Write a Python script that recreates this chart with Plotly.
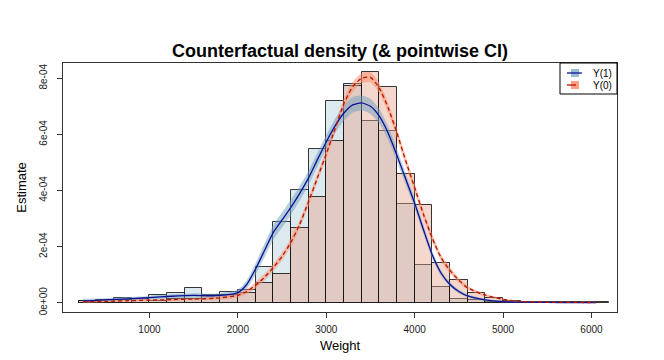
import plotly.graph_objects as go

# histogram bins (left edges, width 200)
bin_left = list(range(200, 6200, 200))
hist_y1 = [0.7e-5, 1.1e-5, 1.8e-5, 1.4e-5, 2.7e-5, 3.4e-5, 5.2e-5, 2.6e-5, 3.9e-5, 4.6e-5,
           12.8e-5, 28.8e-5, 40.3e-5, 54.9e-5, 72.0e-5, 77.8e-5, 64.7e-5, 61.1e-5, 35.2e-5, 13.6e-5,
           5.6e-5, 1.2e-5, 0.9e-5, 0.3e-5, 0.1e-5, None, None, None, None, None]
hist_y0 = [0.5e-5, 0.8e-5, 1.0e-5, 1.5e-5, 0.6e-5, 1.5e-5, 1.5e-5, 2.3e-5, 2.6e-5, 3.5e-5,
           7.0e-5, 10.4e-5, 26.5e-5, 37.6e-5, 57.6e-5, 77.2e-5, 82.2e-5, 76.9e-5, 45.8e-5, 34.7e-5,
           14.0e-5, 8.1e-5, 3.3e-5, 1.7e-5, 0.5e-5, 0.2e-5, 0.1e-5, 0.1e-5, 0.1e-5, 0.1e-5]

# density estimates
weight = [250, 500, 750, 1000, 1250, 1500, 1750, 2000, 2100, 2200, 2300, 2400, 2500, 2600, 2700,
          2800, 2900, 3000, 3100, 3200, 3300, 3400, 3500, 3600, 3700, 3800, 3900, 4000, 4100,
          4200, 4300, 4400, 4500, 4600, 4800, 5000, 5200, 5500, 5800, 6050]
dens_y1 = [0.6e-5, 1.0e-5, 1.4e-5, 1.8e-5, 2.3e-5, 2.6e-5, 2.5e-5, 3.6e-5, 6.5e-5, 12.0e-5, 18.5e-5,
           25.0e-5, 29.5e-5, 34.0e-5, 39.0e-5, 44.5e-5, 51.0e-5, 57.3e-5, 63.0e-5, 67.6e-5, 70.5e-5,
           71.2e-5, 70.0e-5, 66.5e-5, 60.5e-5, 52.5e-5, 44.0e-5, 35.5e-5, 26.0e-5, 17.0e-5, 10.5e-5,
           6.5e-5, 4.0e-5, 2.4e-5, 1.0e-5, 0.4e-5, 0.2e-5, 0.1e-5, 0.05e-5, 0.02e-5]
dens_y0 = [0.3e-5, 0.5e-5, 0.7e-5, 0.9e-5, 1.1e-5, 1.3e-5, 1.6e-5, 2.6e-5, 4.0e-5, 6.2e-5, 9.0e-5,
           12.5e-5, 16.5e-5, 21.5e-5, 28.0e-5, 36.0e-5, 44.5e-5, 53.0e-5, 62.0e-5, 71.0e-5, 77.0e-5,
           80.0e-5, 80.3e-5, 76.5e-5, 69.5e-5, 60.5e-5, 50.5e-5, 41.0e-5, 31.5e-5, 23.0e-5, 16.0e-5,
           11.5e-5, 8.0e-5, 5.3e-5, 2.7e-5, 1.2e-5, 0.4e-5, 0.15e-5, 0.1e-5, 0.05e-5]
# CI half widths
ci_y1 = [0.8e-5, 0.6e-5, 0.6e-5, 0.6e-5, 0.7e-5, 0.8e-5, 0.7e-5, 1.0e-5, 1.5e-5, 2.0e-5, 2.4e-5,
         2.6e-5, 2.7e-5, 2.7e-5, 2.6e-5, 2.5e-5, 2.5e-5, 2.5e-5, 2.6e-5, 2.7e-5, 2.7e-5,
         2.7e-5, 2.7e-5, 2.6e-5, 2.4e-5, 2.2e-5, 2.0e-5, 1.8e-5, 1.6e-5, 1.3e-5, 1.0e-5,
         0.8e-5, 0.6e-5, 0.5e-5, 0.4e-5, 0.3e-5, 0.2e-5, 0.2e-5, 0.2e-5, 0.2e-5]
ci_y0 = [0.3e-5, 0.3e-5, 0.3e-5, 0.3e-5, 0.4e-5, 0.4e-5, 0.5e-5, 0.7e-5, 0.9e-5, 1.1e-5, 1.2e-5,
         1.3e-5, 1.4e-5, 1.5e-5, 1.5e-5, 1.6e-5, 1.6e-5, 1.7e-5, 1.7e-5, 1.8e-5, 1.8e-5,
         1.8e-5, 1.8e-5, 1.8e-5, 1.7e-5, 1.7e-5, 1.6e-5, 1.6e-5, 1.5e-5, 1.4e-5, 1.2e-5,
         1.1e-5, 0.9e-5, 0.7e-5, 0.5e-5, 0.3e-5, 0.2e-5, 0.2e-5, 0.2e-5, 0.2e-5]

ytick_vals = [0, 2e-4, 4e-4, 6e-4, 8e-4]
ytick_text = ["0e+00", "2e-04", "4e-04", "6e-04", "8e-04"]
xtick_vals = [1000, 2000, 3000, 4000, 5000, 6000]

FONT = "Liberation Sans, Arial, sans-serif"
BLUE_LINE = "rgb(15,15,150)"
RED_LINE = "rgb(180,20,0)"
BLUE_BAND = "rgba(110,160,190,0.5)"
RED_BAND = "rgba(255,135,100,0.5)"

fig = go.Figure()
centers = [b + 100 for b in bin_left]
fig.add_trace(go.Bar(x=centers, y=hist_y1, width=200,
                     marker=dict(color="rgba(185,212,222,0.5)", line=dict(color="rgba(20,20,20,0.85)", width=1))))
fig.add_trace(go.Bar(x=centers, y=hist_y0, width=200,
                     marker=dict(color="rgba(228,160,135,0.42)", line=dict(color="rgba(20,20,20,0.85)", width=1))))

for est, ci, band in [(dens_y1, ci_y1, BLUE_BAND), (dens_y0, ci_y0, RED_BAND)]:
    hi = [e + c for e, c in zip(est, ci)]
    lo = [max(e - c, 0) for e, c in zip(est, ci)]
    fig.add_trace(go.Scatter(x=weight + weight[::-1], y=hi + lo[::-1], fill="toself",
                             fillcolor=band, line=dict(width=0, shape="spline", smoothing=0.6),
                             mode="lines", hoverinfo="skip"))

fig.add_trace(go.Scatter(x=weight, y=dens_y1, mode="lines",
                         line=dict(color=BLUE_LINE, width=1.3, shape="spline", smoothing=0.6)))
fig.add_trace(go.Scatter(x=weight, y=dens_y0, mode="lines",
                         line=dict(color=RED_LINE, width=1.3, dash="4px,3px", shape="spline", smoothing=0.6)))

# legend drawn by hand, R style
L, T, W, H = 55, 55, 554, 249
def px(x, y):
    return (x - L) / W, (T + H - y) / H

shapes = []
x0, y0 = px(552, 86); x1, y1 = px(609, 55)
shapes.append(dict(type="rect", xref="paper", yref="paper", x0=x0, y0=y0, x1=x1, y1=y1,
                   line=dict(color="black", width=1), fillcolor="white", layer="above"))
for yc, band, col, dash, lab in [(65, "rgb(150,190,208)", BLUE_LINE, "solid", "Y(1)"),
                                 (77, "rgb(255,160,130)", RED_LINE, "dash", "Y(0)")]:
    a, b = px(563, yc + 4); c, d = px(571, yc - 4)
    shapes.append(dict(type="rect", xref="paper", yref="paper", x0=a, y0=b, x1=c, y1=d,
                       line=dict(width=0), fillcolor=band, layer="above"))
    a, b = px(559, yc); c, d = px(574, yc)
    shapes.append(dict(type="line", xref="paper", yref="paper", x0=a, y0=b, x1=c, y1=d,
                       line=dict(color=col, width=1.3, dash=dash), layer="above"))
    tx, ty = px(583, yc)
    fig.add_annotation(x=tx, y=ty, xref="paper", yref="paper", text=lab, showarrow=False,
                       xanchor="left", yanchor="middle", font=dict(family=FONT, size=10, color="black"))

fig.update_layout(
    width=664, height=360, margin=dict(l=55, r=55, t=55, b=56),
    paper_bgcolor="white", plot_bgcolor="white", showlegend=False,
    barmode="overlay", bargap=0, shapes=shapes,
    title=dict(text="<b>Counterfactual density (& pointwise CI)</b>", x=0.5, xref="paper", xanchor="center",
               y=1 - 43 / 360, yanchor="middle", font=dict(family=FONT, size=18, color="black")),
    font=dict(family=FONT, size=10, color="black"),
)
fig.update_xaxes(range=[22, 6289], tickvals=xtick_vals, ticks="outside", ticklen=5, tickcolor="#333",
                 showline=True, linecolor="#333", linewidth=1, mirror=True, showgrid=False, zeroline=False,
                 automargin=False, ticklabelstandoff=3,
                 title=dict(text="Weight", font=dict(family=FONT, size=13), standoff=6),
                 tickfont=dict(size=10, color="#222"))
fig.update_yaxes(range=[-0.331e-4, 8.544e-4], tickvals=ytick_vals, ticktext=ytick_text, tickangle=-90,
                 ticks="outside", ticklen=5, tickcolor="#333",
                 showline=True, linecolor="#333", linewidth=1, mirror=True, showgrid=False, zeroline=False,
                 automargin=False, ticklabelstandoff=6,
                 title=dict(text="Estimate", font=dict(family=FONT, size=13), standoff=8),
                 tickfont=dict(size=10, color="#222"))

fig.write_html("out.html")
